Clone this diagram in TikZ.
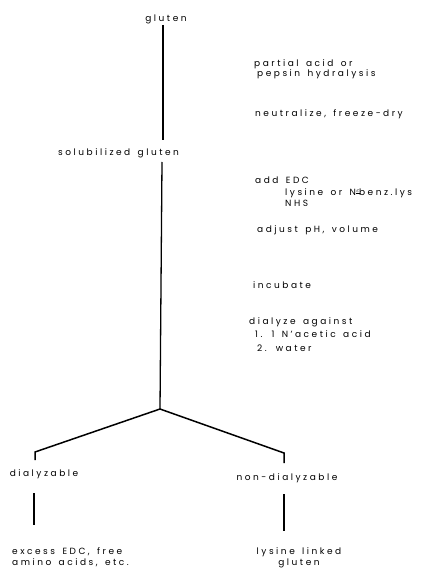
\documentclass[tikz,border=0pt]{standalone}
\usepackage{fontspec}
\setmainfont{Poppins}[LetterSpace=28, WordSpace=1.5]
\usetikzlibrary{positioning}
\tikzset{
  lab/.style={inner sep=0pt, font=\fontsize{9}{10}\selectfont, align=left},
  stem/.style={line width=1.3pt},
  fork/.style={line width=1.5pt, line join=miter}
}

\begin{document}
\begin{tikzpicture}[x=1pt,y=-1pt]
\useasboundingbox (0,0) rectangle (423,569);
% materials down the stem
\node[lab] (gluten) at (166,19) {gluten};
\node[lab,anchor=west] (solgluten) at (58,153) {solubilized gluten};
\node[lab] (dial) at (44,474) {dialyzable};
\node[lab] (nondial) at (287,478) {non-dialyzable};
\node[lab,anchor=north west] (excess) at (12,547) {excess EDC, free\\[1pt]amino acids, etc.};
\node[lab,align=center,anchor=north] (linked) at (299,547) {lysine linked\\[1pt]gluten};
% treatment steps on the right
\node[lab,anchor=west] (hydro) at (254,69) {partial acid or\\\hspace{3pt}pepsin hydralysis};
\node[lab,anchor=west] (neutr) at (255,114) {neutralize, freeze-dry};
\node[lab,anchor=north west] (edc) at (255,177) {add EDC\\[2pt]
  \hspace{30pt}lysine or N$^{\underline{\varepsilon}}$\hspace{-1pt}benz.lys\\[1pt]
  \hspace{30pt}NHS};
\node[lab,anchor=west] (adjust) at (257,230) {adjust pH, volume};
\node[lab,anchor=west] (incub) at (253,285) {incubate};
\node[lab,anchor=north west] (dialyze) at (249,317) {dialyze against\\[3pt]
  \hspace{6pt}1. 1 N'acetic acid\\[4pt]
  \hspace{8pt}2. water};
% stem and fork
\coordinate (top) at (163,25);
\coordinate (topend) at (163,140);
\coordinate (midstart) at (162,162);
\coordinate (split) at (160,409);
\coordinate (lcorner) at (35,452);
\coordinate (lend) at (35,460);
\coordinate (rcorner) at (284,453);
\coordinate (rend) at (284,463);
\coordinate (ltop) at (34,493);
\coordinate (lbot) at (34,525);
\coordinate (rtop) at (284,494);
\coordinate (rbot) at (284,531);
\draw[stem] (top) -- (topend);
\draw[stem] (midstart) -- (split);
\draw[fork] (lend) -- (lcorner) -- (split) -- (rcorner) -- (rend);
\draw[stem] (ltop) -- (lbot);
\draw[stem] (rtop) -- (rbot);
\end{tikzpicture}
\end{document}
